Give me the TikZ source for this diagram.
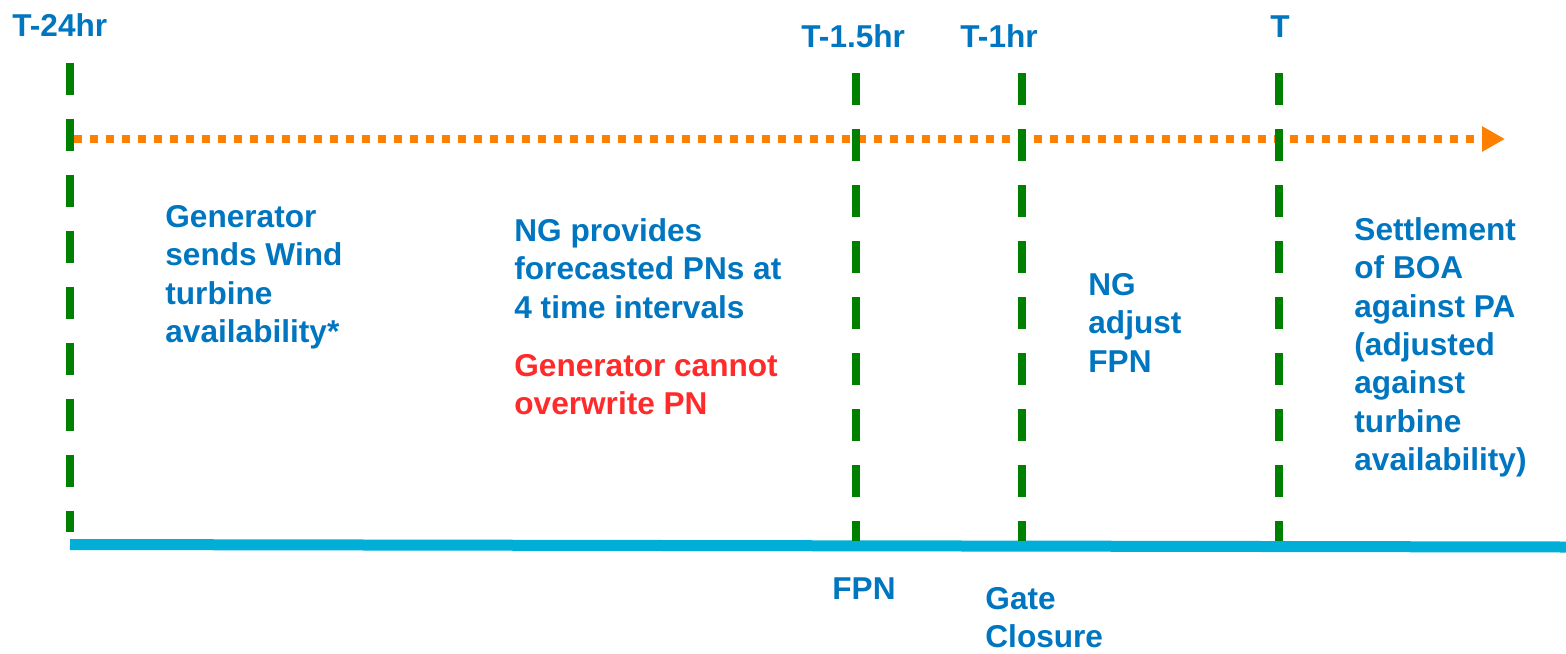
\documentclass[tikz,border=0pt]{standalone}
\usepackage{fontspec}
\setmainfont{Liberation Sans}
\usetikzlibrary{arrows.meta}
\definecolor{tblue}{RGB}{0,118,192}
\definecolor{tred}{RGB}{255,42,42}
\definecolor{tgreen}{RGB}{0,128,0}
\definecolor{torange}{RGB}{255,127,0}
\definecolor{tcyan}{RGB}{0,174,216}
\begin{document}
\begin{tikzpicture}[x=0.5pt,y=-0.5pt,
  lbl/.style={anchor=north west,inner sep=0pt,align=left,text=tblue,
    font=\fontsize{15.8}{19.2}\selectfont\bfseries},
  redlbl/.style={lbl,text=tred},
  marker/.style={draw=tgreen,line width=4pt,dash pattern=on 16pt off 12pt},
  flow/.style={draw=torange,line width=4pt,dash pattern=on 4pt off 4pt,
    -{Triangle[length=11.5pt,width=12pt]}},
  axis/.style={draw=tcyan,line width=5.5pt}]
\useasboundingbox (0,0) rectangle (1566,653);
% timeline markers
\coordinate (m0t) at (70,63);   \coordinate (m0b) at (70,532);
\coordinate (m1t) at (856,73);  \coordinate (m1b) at (856,541);
\coordinate (m2t) at (1022,73); \coordinate (m2b) at (1022,541);
\coordinate (m3t) at (1279,73); \coordinate (m3b) at (1279,541);
\coordinate (fs) at (74,139);   \coordinate (fe) at (1505,139);
\coordinate (as) at (70,544.5); \coordinate (ae) at (1566,547);
\draw[axis] (as) -- (ae);
\draw[flow] (fs) -- (fe);
\foreach \i in {0,...,3} \draw[marker] (m\i t) -- (m\i b);
% labels
\node[lbl] (t24) at (12,13) {T-24hr};
\node[lbl] (t15) at (801,24) {T-1.5hr};
\node[lbl] (t1) at (960,24) {T-1hr};
\node[lbl] (t0) at (1270,15) {T};
\node[lbl] (gen) at (165,205) {Generator\\sends Wind\\turbine\\availability*};
\node[lbl] (ng) at (514,218) {NG provides\\forecasted PNs at\\4 time intervals};
\node[redlbl] (cannot) at (514,354) {Generator cannot\\overwrite PN};
\node[lbl] (adj) at (1088,273) {NG\\adjust\\FPN};
\node[lbl] (sett) at (1354,217) {Settlement\\of BOA\\against PA\\(adjusted\\against\\turbine\\availability)};
\node[lbl] (fpn) at (832,577) {FPN};
\node[lbl] (gate) at (985,587) {Gate\\Closure};
\end{tikzpicture}
\end{document}
